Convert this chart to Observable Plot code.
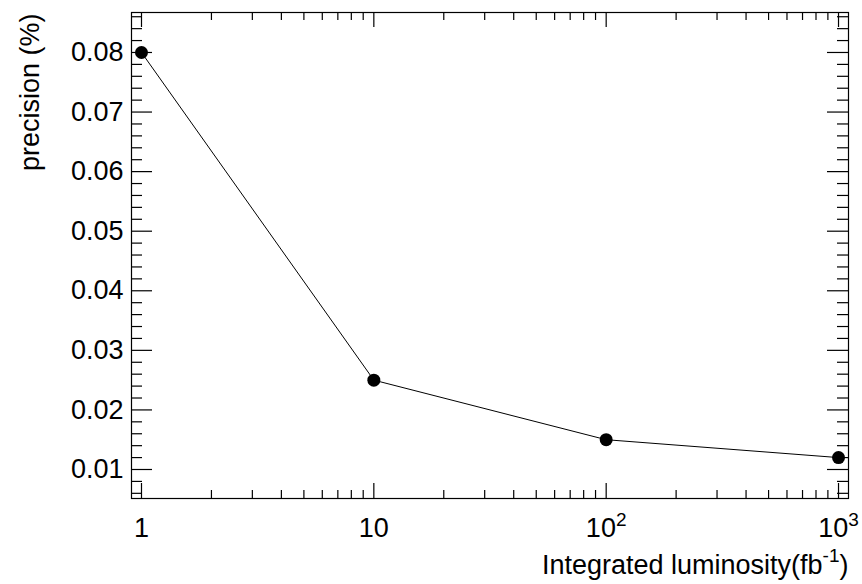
<!DOCTYPE html>
<html>
<head>
<meta charset="utf-8">
<script src="https://cdn.jsdelivr.net/npm/d3@7"></script>
<script src="https://cdn.jsdelivr.net/npm/@observablehq/plot@0.6"></script>
<style>
  html, body { margin: 0; padding: 0; background: #fff; }
  #chart svg { display: block; }
</style>
</head>
<body>
<div id="chart"></div>
<script>
// Data
const luminosity = [1, 10, 100, 1000];
const precision = [0.080, 0.025, 0.015, 0.012];
const xTickValues = [1, 10, 100, 1000];
const xTickLabels = ["1", "10", "10", "10"];
const xTickExponents = ["", "", "2", "3"];
const yTickValues = [0.01, 0.02, 0.03, 0.04, 0.05, 0.06, 0.07, 0.08];
const yTickLabels = ["0.01", "0.02", "0.03", "0.04", "0.05", "0.06", "0.07", "0.08"];
const xTitleMain = "Integrated luminosity(fb";
const xTitleSup = "-1";
const xTitleEnd = ")";
const yTitle = "precision (%)";

const data = luminosity.map((x, i) => ({x, y: precision[i]}));

const W = 862, H = 584;
const mL = 131, mR = 14, mT = 12, mB = 86;
const fw = W - mL - mR, fh = H - mT - mB;
const xDomain = [0.9057, 1104];
const yDomain = [0.005132, 0.08671];

// minor ticks
const xMinor = [];
for (let k = 0; k <= 3; k++) for (let m = 2; m <= 9; m++) {
  const v = m * Math.pow(10, k);
  if (v >= xDomain[0] && v <= xDomain[1]) xMinor.push(v);
}
const yMinor = d3.range(3, 44).map(i => i * 0.002).filter(v => v >= yDomain[0] && v <= yDomain[1] && Math.abs(v * 100 - Math.round(v * 100)) > 1e-6);

const font = "'Liberation Sans', Arial, Helvetica, sans-serif";
const FS = 27;
const xMaj = 15, xMin = 8, yMaj = 21, yMin = 11;
const sw = 1.2;

const chart = Plot.plot({
  width: W, height: H,
  marginLeft: mL, marginRight: mR, marginTop: mT, marginBottom: mB,
  style: {fontFamily: font, fontSize: FS + "px", color: "black", background: "white"},
  x: {type: "log", domain: xDomain},
  y: {domain: yDomain},
  marks: [
    Plot.frame({stroke: "black", strokeWidth: sw}),
    // x ticks bottom/top
    Plot.tickX(xTickValues, {x: d => d, insetTop: fh - xMaj, stroke: "black", strokeWidth: sw}),
    Plot.tickX(xTickValues, {x: d => d, insetBottom: fh - xMaj, stroke: "black", strokeWidth: sw}),
    Plot.tickX(xMinor, {x: d => d, insetTop: fh - xMin, stroke: "black", strokeWidth: sw}),
    Plot.tickX(xMinor, {x: d => d, insetBottom: fh - xMin, stroke: "black", strokeWidth: sw}),
    // y ticks left/right
    Plot.tickY(yTickValues, {y: d => d, insetRight: fw - yMaj, stroke: "black", strokeWidth: sw}),
    Plot.tickY(yTickValues, {y: d => d, insetLeft: fw - yMaj, stroke: "black", strokeWidth: sw}),
    Plot.tickY(yMinor, {y: d => d, insetRight: fw - yMin, stroke: "black", strokeWidth: sw}),
    Plot.tickY(yMinor, {y: d => d, insetLeft: fw - yMin, stroke: "black", strokeWidth: sw}),
    // axes labels
    Plot.axisX({ticks: xTickValues, tickSize: 0, tickPadding: 19, fontSize: FS, label: null,
      tickFormat: d => xTickLabels[xTickValues.indexOf(d)]}),
    Plot.axisY({ticks: yTickValues, tickSize: 0, tickPadding: 8, fontSize: FS, label: null,
      tickFormat: d => yTickLabels[yTickValues.findIndex(v => Math.abs(v - d) < 1e-9)]}),
    // data
    Plot.line(data, {x: "x", y: "y", stroke: "black", strokeWidth: 1}),
    Plot.dot(data, {x: "x", y: "y", r: 6.5, fill: "black", stroke: "none"}),
    // titles
    Plot.text([xTitleMain], {text: d => d, frameAnchor: "bottom-right", textAnchor: "end", lineAnchor: "bottom", dx: 0, dy: 75, fontSize: FS, fill: "black"}),
    Plot.text([yTitle], {text: d => d, frameAnchor: "top-left", textAnchor: "end", lineAnchor: "bottom", rotate: -90, dx: -93, dy: 1, fontSize: FS, fill: "black"})
  ]
});

// superscripts as real text (tspans)
const svg = d3.select(chart);
const xLabelNodes = svg.selectAll('g[aria-label="x-axis tick label"] text').nodes();
xLabelNodes.forEach((node, i) => {
  const exp = xTickExponents[i];
  if (exp) {
    d3.select(node).append("tspan").attr("dy", "-11px").attr("font-size", "19px").text(exp);
  }
});
svg.selectAll("text").filter(function() { return this.textContent === xTitleMain; }).each(function() {
  const t = d3.select(this);
  t.append("tspan").attr("dy", "-12px").attr("font-size", "19px").text(xTitleSup);
  t.append("tspan").attr("dy", "12px").text(xTitleEnd);
});

document.getElementById("chart").appendChild(chart);
</script>
</body>
</html>
